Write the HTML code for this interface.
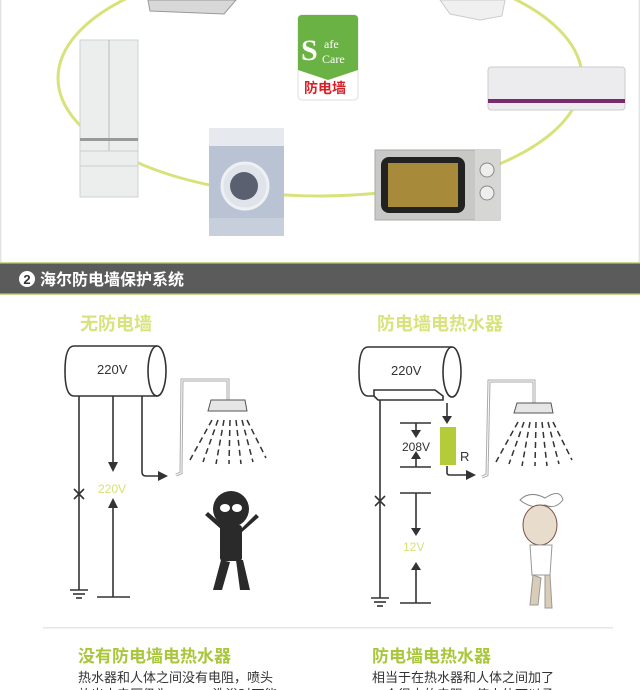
<!DOCTYPE html>
<html><head><meta charset="utf-8"><style>
body{margin:0;width:640px;height:690px;overflow:hidden;background:#fff;font-family:"Liberation Sans","Noto Sans CJK SC",sans-serif}
svg{display:block}
</style></head><body>
<svg width="640" height="690" viewBox="0 0 640 690" xmlns="http://www.w3.org/2000/svg" font-family="Liberation Sans, Noto Sans CJK SC, sans-serif">
<rect x="0" y="0" width="1.5" height="262" fill="#e4e4e4"/>
<rect x="638.5" y="0" width="1.5" height="262" fill="#e4e4e4"/>
<ellipse cx="320" cy="78" rx="262" ry="118" fill="none" stroke="#d7e27a" stroke-width="3"/>
<path d="M148 0 L236 0 L224 14 L150 11 Z" fill="#d8d8d8" stroke="#999"/>
<path d="M440 0 L505 0 L502 16 L480 20 L450 14 Z" fill="#f0f0f0" stroke="#ccc"/>
<!-- safe care badge -->
<rect x="298" y="15" width="60" height="85" rx="4" fill="#fff" stroke="#ddd"/>
<path d="M298 19 Q298 15 302 15 L354 15 Q358 15 358 19 L358 70 L328 80 L298 70 Z" fill="#6bb244"/>
<text x="301" y="60" fill="#fff" font-family="Liberation Serif,serif" font-size="30" font-weight="bold">S</text>
<text x="324" y="48" fill="#fff" font-family="Liberation Serif,serif" font-size="12">afe</text>
<text x="322" y="63" fill="#fff" font-family="Liberation Serif,serif" font-size="12">Care</text>
<text x="304" y="93" fill="#d62028" font-size="14" font-weight="bold">防电墙</text>
<!-- fridge -->
<rect x="80" y="40" width="58" height="157" fill="#eceeee" stroke="#cfd3d3"/>
<line x1="109" y1="40" x2="109" y2="151" stroke="#bbb"/>
<rect x="80" y="138" width="58" height="3" fill="#999"/>
<line x1="80" y1="151" x2="138" y2="151" stroke="#ccc"/>
<line x1="80" y1="166" x2="138" y2="166" stroke="#ccc"/>
<!-- washer -->
<rect x="209" y="128" width="75" height="108" fill="#b9c3d4"/>
<rect x="209" y="128" width="75" height="18" fill="#e6e9ee"/>
<circle cx="245" cy="186" r="23" fill="#dfe3ea" stroke="#eef0f4" stroke-width="3"/>
<circle cx="244" cy="186" r="14" fill="#5a6070"/>
<rect x="209" y="218" width="75" height="18" fill="#c8cfdc"/>
<!-- microwave -->
<rect x="375" y="150" width="125" height="70" fill="#c8c8c6" stroke="#aaa"/>
<rect x="381" y="157" width="84" height="56" rx="8" fill="#222"/>
<rect x="388" y="163" width="70" height="44" fill="#a88b3a"/>
<rect x="475" y="150" width="25" height="70" fill="#d6d6d4"/>
<circle cx="487" cy="170" r="7" fill="#eee" stroke="#888"/>
<circle cx="487" cy="193" r="7" fill="#eee" stroke="#888"/>
<!-- AC -->
<rect x="488" y="67" width="137" height="43" rx="3" fill="#ececee" stroke="#ccc"/>
<rect x="488" y="99" width="137" height="4" fill="#7a2a6e"/>
<!-- header -->
<rect x="0" y="262" width="640" height="33" fill="#5b5b5b"/>
<rect x="0" y="262" width="640" height="1.5" fill="#c7d98a"/>
<rect x="0" y="293.5" width="640" height="1.5" fill="#c7d98a"/>
<circle cx="27" cy="279" r="8" fill="#fff"/>
<text x="27" y="284" text-anchor="middle" fill="#333" font-size="13" font-weight="bold">2</text>
<text x="40" y="285" fill="#fff" font-size="16" font-weight="bold">海尔防电墙保护系统</text>
<text x="116" y="330" text-anchor="middle" fill="#d8e37d" font-size="18" font-weight="bold">无防电墙</text>
<text x="440" y="330" text-anchor="middle" fill="#d8e37d" font-size="18" font-weight="bold">防电墙电热水器</text>
<g stroke="#333" stroke-width="1.6" fill="none">
<path d="M157 346 L74 346 Q65 346 65 371 Q65 396 74 396 L157 396"/>
<ellipse cx="157" cy="371" rx="9" ry="25"/>
<line x1="79" y1="396" x2="79" y2="590"/>
<path d="M74 489 L84 499 M84 489 L74 499"/>
<line x1="70" y1="590" x2="88" y2="590"/><line x1="73" y1="594" x2="85" y2="594"/><line x1="76" y1="598" x2="82" y2="598"/>
<line x1="113" y1="396" x2="113" y2="464"/>
<line x1="113" y1="597" x2="113" y2="506"/>
<line x1="97" y1="597" x2="130" y2="597"/>
<path d="M142 396 L142 472 Q142 476 146 476 L160 476"/>
<path d="M452 347 L368 347 Q359 347 359 372 Q359 396 368 396 L374 396"/>
<ellipse cx="452" cy="372" rx="9" ry="25"/>
<path d="M374 390 L435 390 L443 396 L443 400 L378 400 L374 396 Z" fill="#fff"/>
<line x1="380" y1="400" x2="380" y2="598"/>
<path d="M375 496 L385 506 M385 496 L375 506"/>
<line x1="371" y1="598" x2="389" y2="598"/><line x1="374" y1="602" x2="386" y2="602"/><line x1="377" y1="606" x2="383" y2="606"/>
<line x1="447" y1="403" x2="447" y2="418"/>
<line x1="400" y1="423" x2="431" y2="423"/><line x1="400" y1="467" x2="431" y2="467"/>
<line x1="416" y1="423" x2="416" y2="431"/><line x1="416" y1="467" x2="416" y2="458"/>
<line x1="400" y1="493" x2="431" y2="493"/><line x1="400" y1="603" x2="431" y2="603"/>
<line x1="416" y1="493" x2="416" y2="530"/><line x1="416" y1="603" x2="416" y2="568"/>
<path d="M447 466 L447 473 Q447 475 450 475 L468 475"/>
</g>
<g fill="#333">
<path d="M108 462 L118 462 L113 472 Z"/><path d="M108 508 L118 508 L113 498 Z"/>
<path d="M158 471 L168 476 L158 481 Z"/>
<path d="M442 416 L452 416 L447 424 Z"/>
<path d="M411 430 L421 430 L416 438 Z"/><path d="M411 459 L421 459 L416 451 Z"/>
<path d="M411 528 L421 528 L416 536 Z"/><path d="M411 570 L421 570 L416 562 Z"/>
<path d="M466 470 L476 475 L466 480 Z"/>
</g>
<rect x="440" y="427" width="16" height="38" fill="#b4cc3a"/>
<text x="460" y="461" font-size="13" fill="#333">R</text>
<text x="97" y="374" font-size="13" fill="#333">220V</text>
<text x="391" y="375" font-size="13" fill="#333">220V</text>
<text x="402" y="451" font-size="12" fill="#333">208V</text>
<text x="98" y="493" font-size="12" fill="#d6e07a">220V</text>
<text x="403" y="551" font-size="12" fill="#d6e07a">12V</text>
<g stroke="#aaa" stroke-width="3" fill="none">
<path d="M176 475 L181 473 L182 380 L228 380 L228 400"/>
<path d="M482 477 L487 475 L489 381 L534 381 L534 403"/>
</g>
<g stroke="#fff" stroke-width="1" fill="none">
<path d="M176 475 L181 473 L182 380 L228 380 L228 400"/>
<path d="M482 477 L487 475 L489 381 L534 381 L534 403"/>
</g>
<path d="M211 400 L245 400 L247 411 L208 411 Z" fill="#e6e6e6" stroke="#555"/>
<path d="M517 403 L551 403 L553 413 L514 413 Z" fill="#e6e6e6" stroke="#555"/>
<g stroke="#333" stroke-width="1.5" stroke-dasharray="6,4">
<path d="M212 420 L190 460 M218 420 L203 462 M224 420 L216 464 M230 420 L229 464 M236 420 L241 464 M242 420 L253 462 M247 420 L266 458"/>
<path d="M518 422 L496 462 M524 422 L509 464 M530 422 L522 466 M536 422 L535 466 M542 422 L547 466 M548 422 L559 464 M553 422 L572 460"/>
</g>
<g fill="#2a2a2a">
<ellipse cx="231" cy="509" rx="18" ry="18"/>
<rect x="220" y="525" width="22" height="36" rx="3"/>
<path d="M221 560 L213 590 L222 590 L230 562 Z M236 560 L240 590 L250 590 L243 560 Z"/>
<path d="M222 530 L205 515 L208 512 L224 526 Z M240 530 L256 514 L259 517 L242 532 Z"/>
</g>
<ellipse cx="225" cy="508" rx="5" ry="4" fill="#fff"/><ellipse cx="237" cy="508" rx="5" ry="4" fill="#fff"/>
<path d="M520 500 Q530 490 545 498 Q560 488 563 500 Q555 510 545 505 Q532 510 520 500 Z" fill="#fff" stroke="#888"/>
<ellipse cx="540" cy="525" rx="17" ry="20" fill="#e8dccd" stroke="#7a5040"/>
<path d="M530 545 L552 545 L550 575 L532 575 Z" fill="#fff" stroke="#999"/>
<path d="M533 575 L530 605 L538 605 L541 578 Z M545 575 L545 608 L552 608 L550 575 Z" fill="#d9cdb8" stroke="#999"/>
<rect x="43" y="627" width="570" height="1.5" fill="#e6e6e6"/>
<text x="78" y="662" font-size="17" font-weight="bold" fill="#a8c73a">没有防电墙电热水器</text>
<text x="372" y="662" font-size="17" font-weight="bold" fill="#a8c73a">防电墙电热水器</text>
<text x="78" y="682" font-size="13" fill="#333">热水器和人体之间没有电阻，喷头</text>
<text x="78" y="699" font-size="13" fill="#333">放出水电压仍为220V，洗浴时可能</text>
<text x="372" y="682" font-size="13" fill="#333">相当于在热水器和人体之间加了</text>
<text x="372" y="699" font-size="13" fill="#333">一个很大的电阻，使人体可以承</text>
</svg>
</body></html>
